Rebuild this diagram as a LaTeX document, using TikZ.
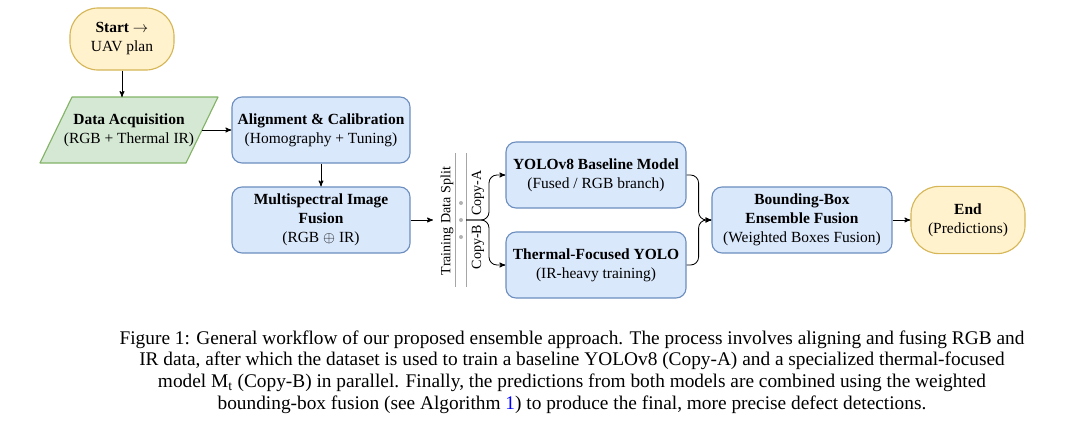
\documentclass[tikz,border=0pt]{standalone}
\usepackage{fontspec}
\setmainfont{Liberation Serif}
\usepackage{amsmath,amssymb}
\usetikzlibrary{arrows, calc, positioning}

\definecolor{bluefill}{HTML}{DAE8FC}
\definecolor{blueline}{HTML}{6C8EBF}
\definecolor{greenfill}{HTML}{D5E8D4}
\definecolor{greenline}{HTML}{82B366}
\definecolor{yellowfill}{HTML}{FFF2CC}
\definecolor{yellowline}{HTML}{D6B656}

\newcommand{\boxfont}{\fontsize{11}{13.5}\selectfont}
\newcommand{\splitfont}{\fontsize{10}{12}\selectfont}

\tikzset{
	procbox/.style={draw=blueline, fill=bluefill, line width=0.8pt, rounded corners=0.25cm,
		minimum width=4.45cm, minimum height=1.65cm, align=center, font=\boxfont, inner sep=2pt},
	termbox/.style={draw=yellowline, fill=yellowfill, line width=0.8pt, rounded corners=0.7cm,
		align=center, font=\boxfont},
	iobox/.style={draw=greenline, fill=greenfill, line width=0.8pt, line join=round},
	flow/.style={->, >=stealth', line width=0.6pt},
}

\begin{document}
\begin{tikzpicture}[x=0.025cm, y=-0.025cm]
		\useasboundingbox (0,0) rectangle (1080,430);

		% pipeline
		\node[termbox, minimum width=2.6cm, minimum height=1.55cm] (start) at (122,39) {\textbf{Start $\rightarrow$}\\UAV plan};

		\coordinate (acqc) at (129,130);
		\draw[iobox] ($(acqc)+(-89,33)$) -- ($(acqc)+(57,33)$) -- ($(acqc)+(89,-33)$) -- ($(acqc)+(-57,-33)$) -- cycle;
		\node[align=center, font=\boxfont] (acq) at (acqc) {\textbf{Data Acquisition}\\(RGB + Thermal IR)};
		\coordinate (acqtop) at ($(acqc)+(0,-33)$);
		\coordinate (acqout) at ($(acqc)+(73,0)$);

		\node[procbox] (align) at (321,130) {\textbf{Alignment \& Calibration}\\(Homography + Tuning)};
		\node[procbox] (fuse) at (321,220) {\textbf{Multispectral Image}\\\textbf{Fusion}\\(RGB $\oplus$ IR)};

		\draw[flow] (start.south) -- (start.south |- acqtop);
		\draw[flow] (acqout) -- (align.west);
		\draw[flow] (align.south) -- (fuse.north);

		% data split
		\coordinate (splitin) at (433,220);
		\coordinate (splitout) at (466,220);
		\draw[flow] (fuse.east) -- (splitin);
		\draw[gray!70, line width=0.7pt] (455,153) -- (455,287);
		\draw[gray!70, line width=0.7pt] (466,153) -- (466,287);
		\node[rotate=90, font=\splitfont] (splitlabel) at (447,221) {Training Data Split};
		\foreach \y in {203,220,237}
			\fill[gray!60] (461,\y) circle (0.05cm);
		\node[rotate=90, font=\splitfont] (copyA) at (478,193) {Copy-A};
		\node[rotate=90, font=\splitfont] (copyB) at (478,247) {Copy-B};

		\node[procbox, minimum width=4.5cm] (yolo) at (596,175) {\textbf{YOLOv8 Baseline Model}\\(Fused / RGB branch)};
		\node[procbox, minimum width=4.5cm] (thermal) at (596,265) {\textbf{Thermal-Focused YOLO}\\(IR-heavy training)};

		\draw[flow, rounded corners=0.2cm] (splitout) -- ++(23,0) |- (yolo.west);
		\draw[flow, rounded corners=0.2cm] (splitout) -- ++(23,0) |- (thermal.west);

		% ensemble
		\node[procbox, minimum width=4.5cm] (bbox) at (802,220) {\textbf{Bounding-Box}\\\textbf{Ensemble Fusion}\\(Weighted Boxes Fusion)};
		\node[termbox, minimum width=2.85cm, minimum height=1.68cm] (finish) at (968,220) {\textbf{End}\\(Predictions)};

		\draw[flow, rounded corners=0.2cm] (yolo.east) -- ++(12,0) |- (bbox.west);
		\draw[flow, rounded corners=0.2cm] (thermal.east) -- ++(12,0) |- (bbox.west);
		\draw[flow] (bbox.east) -- (finish.west);

		% caption
		\node[align=center, inner sep=0pt, font=\fontsize{13.75}{15.5}\selectfont] (caption) at (572,372)
			{Figure 1: General workflow of our proposed ensemble approach. The process involves aligning and fusing RGB and\\
			IR data, after which the dataset is used to train a baseline YOLOv8 (Copy-A) and a specialized thermal-focused\\
			model M$_{\mathrm{t}}$ (Copy-B) in parallel. Finally, the predictions from both models are combined using the weighted\\
			bounding-box fusion (see Algorithm \textcolor{blue}{1}) to produce the final, more precise defect detections.};
	\end{tikzpicture}
\end{document}
